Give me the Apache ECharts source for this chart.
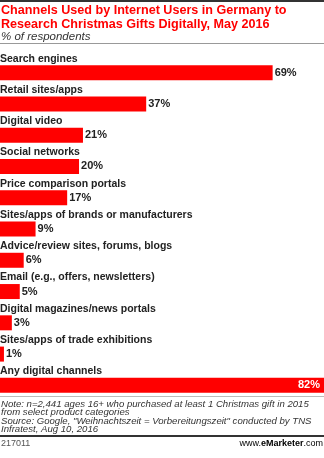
<!DOCTYPE html>
<html>
<head>
<meta charset="utf-8">
<style>
  html, body { margin: 0; padding: 0; background: #fff; }
  #chart { width: 324px; height: 458px; }
</style>
<script src="https://cdn.jsdelivr.net/npm/echarts@6/dist/echarts.min.js"></script>
</head>
<body>
<div id="chart"></div>
<script>
// Channels and shares (% of respondents)
const categories = [
  'Search engines',
  'Retail sites/apps',
  'Digital video',
  'Social networks',
  'Price comparison portals',
  'Sites/apps of brands or manufacturers',
  'Advice/review sites, forums, blogs',
  'Email (e.g., offers, newsletters)',
  'Digital magazines/news portals',
  'Sites/apps of trade exhibitions',
  'Any digital channels'
];
const values = [69, 37, 21, 20, 17, 9, 6, 5, 3, 1, 82];

const titleLines = [
  'Channels Used by Internet Users in Germany to',
  'Research Christmas Gifts Digitally, May 2016'
];
const subtitle = '% of respondents';
const noteLines = [
  'Note: n=2,441 ages 16+ who purchased at least 1 Christmas gift in 2015',
  'from select product categories',
  'Source: Google, "Weihnachtszeit = Vorbereitungszeit" conducted by TNS',
  'Infratest, Aug 10, 2016'
];
const chartId = '217011';

const FONT = 'Liberation Sans, Arial, sans-serif';
const RED = '#ff0000';

const chart = echarts.init(document.getElementById('chart'), null, { renderer: 'canvas' });

const barData = values.map((v, i) => {
  if (i === values.length - 1) {
    return {
      value: v,
      label: { position: 'insideRight', color: '#fff', distance: 4 }
    };
  }
  return v;
});

chart.setOption({
  animation: false,
  grid: { left: 0, right: 0, top: 57, height: 344, containLabel: false },
  xAxis: { type: 'value', min: 0, max: 82, show: false },
  yAxis: {
    type: 'category', data: categories, inverse: true,
    axisLine: { show: false }, axisTick: { show: false }, axisLabel: { show: false }
  },
  series: [
    {
      type: 'bar',
      data: barData,
      barWidth: 15,
      itemStyle: { color: RED },
      label: {
        show: true, position: 'right', distance: 2,
        formatter: '{c}%',
        fontFamily: FONT, fontWeight: 'bold', fontSize: 11, color: '#222'
      }
    },
    {
      // transparent twin bars carry the category names above each red bar
      type: 'bar',
      data: values,
      barWidth: 15,
      barGap: '-100%',
      silent: true,
      itemStyle: { color: 'rgba(0,0,0,0)' },
      label: {
        show: true, position: [0, -12],
        formatter: (p) => categories[p.dataIndex],
        fontFamily: FONT, fontWeight: 'bold', fontSize: 10.5, color: '#222'
      }
    }
  ],
  graphic: [
    { type: 'rect', shape: { x: 0, y: 0, width: 324, height: 2 }, style: { fill: '#333' } },
    {
      type: 'text', left: 1, top: 4,
      style: {
        text: titleLines.join('\n'), fontFamily: FONT, fontWeight: 'bold',
        fontSize: 12.6, lineHeight: 13.5, fill: RED
      }
    },
    {
      type: 'text', left: 1, top: 30.5,
      style: {
        text: subtitle, fontFamily: FONT, fontStyle: 'italic',
        fontSize: 11.5, lineHeight: 12, fill: '#333'
      }
    },
    { type: 'rect', shape: { x: 0, y: 43, width: 324, height: 1 }, style: { fill: '#999' } },
    { type: 'rect', shape: { x: 0, y: 396, width: 324, height: 1 }, style: { fill: '#bbb' } },
    {
      type: 'text', left: 1, top: 399,
      style: {
        text: noteLines.join('\n'), fontFamily: FONT, fontStyle: 'italic',
        fontSize: 9.6, lineHeight: 8.5, fill: '#333'
      }
    },
    { type: 'rect', shape: { x: 0, y: 435, width: 324, height: 2 }, style: { fill: '#333' } },
    {
      type: 'text', left: 1, top: 439,
      style: { text: chartId, fontFamily: FONT, fontSize: 9, fill: '#555' }
    },
    {
      type: 'text', right: 1, top: 439,
      style: {
        text: '{w|www.}{e|e}{m|Marketer}{w|.com}',
        rich: {
          w: { fontFamily: FONT, fontSize: 9, color: '#555' },
          e: { fontFamily: FONT, fontSize: 9, fontWeight: 'bold', color: RED },
          m: { fontFamily: FONT, fontSize: 9, fontWeight: 'bold', color: '#444' }
        }
      }
    }
  ]
});
</script>
</body>
</html>
